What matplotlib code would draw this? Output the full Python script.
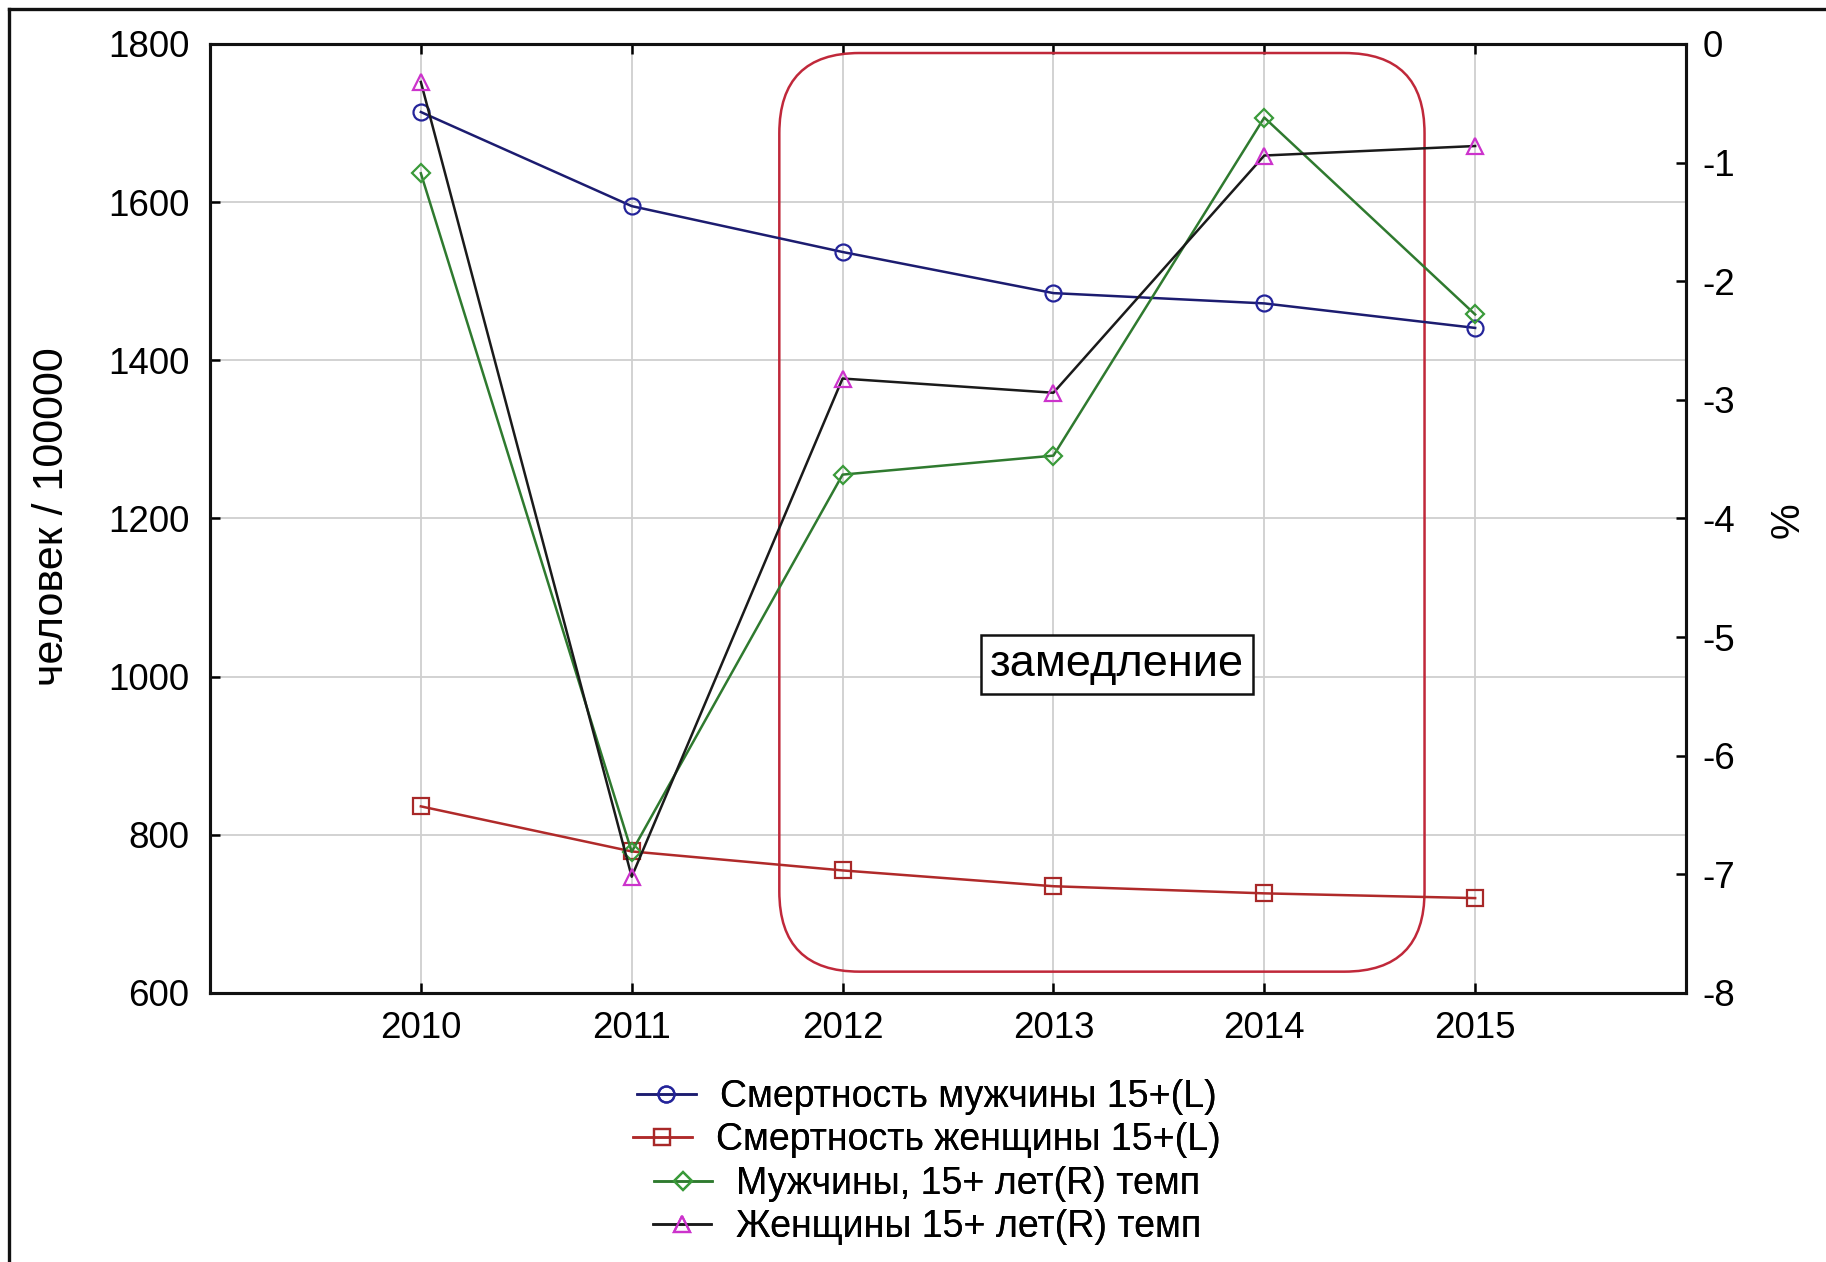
import matplotlib
matplotlib.use("Agg")
import matplotlib.pyplot as plt
from matplotlib.lines import Line2D
from matplotlib.patches import FancyBboxPatch

plt.rcParams['font.family'] = ['Liberation Sans', 'DejaVu Sans']

# Mortality per 100 000 (left axis) and year-over-year rate, % (right axis)
years = [2010, 2011, 2012, 2013, 2014, 2015]
male_mortality = [1714, 1595, 1537, 1485, 1472, 1441]
female_mortality = [836, 779, 755, 735, 726, 720]
male_rate = [-1.09, -6.81, -3.63, -3.47, -0.62, -2.28]
female_rate = [-0.32, -7.02, -2.82, -2.94, -0.94, -0.86]

labels = [
    "Смертность мужчины 15+(L)",
    "Смертность женщины 15+(L)",
    "Мужчины, 15+ лет(R) темп",
    "Женщины 15+ лет(R) темп",
]
left_ticks = [600, 800, 1000, 1200, 1400, 1600, 1800]
right_ticks = [-8, -7, -6, -5, -4, -3, -2, -1, 0]

W, H = 1826, 1262
fig = plt.figure(figsize=(W / 100, H / 100), dpi=100)
fig.patch.set_facecolor("white")

ax = fig.add_axes([210 / W, 1 - 993 / H, (1686 - 210) / W, (993 - 44) / H])
ax2 = ax.twinx()

tick_fs = 26.5
for a in (ax, ax2):
    for s in a.spines.values():
        s.set_linewidth(2.2)
        s.set_color("#111111")

ax.set_xlim(2009, 2016)
ax.set_ylim(600, 1800)
ax2.set_ylim(-8, 0)
ax.set_xticks(years)
ax.set_xticklabels([str(y) for y in years])
ax.set_yticks(left_ticks)
ax2.set_yticks(right_ticks)
ax2.set_yticklabels([str(t) for t in right_ticks])

ax.tick_params(axis="x", direction="in", length=7, width=1.8, top=True,
               labelsize=tick_fs, pad=13)
ax.tick_params(axis="y", direction="in", length=7, width=1.8,
               labelsize=tick_fs, pad=15)
ax2.tick_params(axis="y", direction="in", length=7, width=1.8,
                labelsize=tick_fs, pad=12)

ax.grid(True, color="#cfcfcf", linewidth=1.3)
ax.set_axisbelow(True)

# Highlighted period: rounded frame
rect = FancyBboxPatch((2011.70, 627), 2014.76 - 2011.70, 1788.6 - 627,
                      boxstyle="round,pad=0,rounding_size=0.38",
                      mutation_aspect=267, facecolor="none",
                      edgecolor="#c0283a", linewidth=1.8, zorder=1.5)
ax.add_patch(rect)

styles = [
    dict(color="#1c1c70", marker="o", mec="#24249a", ms=11.5),
    dict(color="#b02a2a", marker="s", mec="#a82828", ms=11.5),
    dict(color="#2f7a2f", marker="D", mec="#3a9a3a", ms=9),
    dict(color="#1a1a1a", marker="^", mec="#cc33cc", ms=12),
]

h1, = ax.plot(years, male_mortality, lw=1.8, mfc="none", mew=1.6, **styles[0], zorder=3)
h2, = ax.plot(years, female_mortality, lw=1.8, mfc="none", mew=1.6, **styles[1], zorder=3)
h3, = ax2.plot(years, male_rate, lw=1.8, mfc="none", mew=1.6, **styles[2], zorder=3)
h4, = ax2.plot(years, female_rate, lw=1.8, mfc="none", mew=1.6, **styles[3], zorder=3)

ax2.text(2013.30, -5.23, "замедление", fontsize=32.5, ha="center", va="center",
         bbox=dict(boxstyle="square,pad=0.2", facecolor="white",
                   edgecolor="#111111", linewidth=1.8), zorder=5)

fig.text(52 / W, 1 - 517 / H, "человек / 100000", rotation=90,
         fontsize=31, ha="center", va="center")
fig.text(1788 / W, 1 - 520 / H, "%", rotation=90,
         fontsize=29, ha="center", va="center")

# Legend: one centred row per series
rows_y = [1097, 1140, 1184, 1227]
for h, lab, yy in zip([h1, h2, h3, h4], labels, rows_y):
    lg = fig.legend([h], [lab], loc="center", bbox_to_anchor=(927 / W, 1 - yy / H),
                    frameon=False, fontsize=27, handlelength=1.55,
                    handletextpad=0.65, borderpad=0, borderaxespad=0)
    fig.add_artist(lg)

# Outer frame edges
fig.add_artist(Line2D([9 / W, 1], [1 - 9 / H, 1 - 9 / H], transform=fig.transFigure,
                      color="#111111", linewidth=2.4))
fig.add_artist(Line2D([9 / W, 9 / W], [0, 1 - 9 / H], transform=fig.transFigure,
                      color="#111111", linewidth=2.4))

fig.savefig("out.png", dpi=100, facecolor="white")
